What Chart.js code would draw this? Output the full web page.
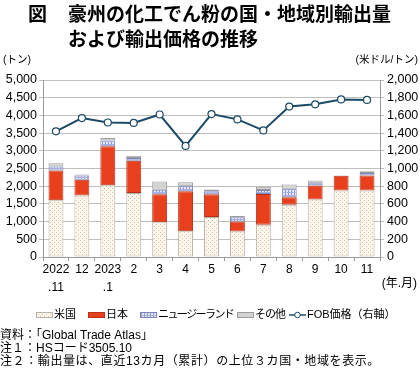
<!DOCTYPE html>
<html>
<head>
<meta charset="utf-8">
<script src="https://cdn.jsdelivr.net/npm/chart.js@4"></script>
<style>
html, body { margin: 0; padding: 0; background: #fff; }
</style>
</head>
<body>
<canvas id="chart" width="420" height="372"></canvas>
<script>
// 輸出量（トン）と FOB価格（米ドル/トン）
const months = [['2022', '.11'], '12', ['2023', '.1'], '2', '3', '4', '5', '6', '7', '8', '9', '10', '11']
const usa = [1600, 1740, 2030, 1810, 980, 730, 1130, 720, 910, 1475, 1625, 1880, 1880]
const japan = [845, 440, 1100, 910, 790, 1130, 640, 280, 870, 215, 395, 415, 425]
const newZealand = [110, 120, 160, 75, 130, 140, 85, 120, 110, 235, 65, 10, 65]
const others = [95, 30, 75, 65, 235, 115, 50, 40, 95, 120, 75, 5, 55]
const fobPrice = [1420, 1570, 1520, 1515, 1610, 1255, 1615, 1555, 1430, 1700, 1725, 1780, 1775]

const seriesNames = ['米国', '日本', 'ニュージーランド', 'その他', 'FOB価格（右軸）']

const canvas = document.getElementById('chart')
const ctx = canvas.getContext('2d')

const jpFont = '"Liberation Sans", "Noto Sans CJK JP", sans-serif'
const lineColor = '#1B4A66'

function makePattern(size, paint) {
    const c = document.createElement('canvas')
    c.width = size
    c.height = size
    paint(c.getContext('2d'))
    return ctx.createPattern(c, 'repeat')
}

// 米国: 点々の柄
const usaFill = makePattern(4, g => {
    g.fillStyle = '#FCF6EC'
    g.fillRect(0, 0, 4, 4)
    g.fillStyle = '#E2C39A'
    g.fillRect(0, 0, 1, 1)
    g.fillRect(2, 2, 1, 1)
})
// ニュージーランド: 格子の柄
const nzFill = makePattern(3, g => {
    g.fillStyle = '#E6E8F7'
    g.fillRect(0, 0, 3, 3)
    g.fillStyle = '#8E97D6'
    g.fillRect(0, 0, 1, 3)
    g.fillStyle = '#A9B0E0'
    g.fillRect(0, 0, 3, 1)
})

const barStyle = { borderWidth: 1, borderSkipped: false, stack: 'vol', yAxisID: 'y', order: 1,
    categoryPercentage: 0.8, barPercentage: 0.72 }

const textPlugin = {
    id: 'texts',
    beforeDraw(chart) {
        const c = chart.ctx
        c.save()
        c.fillStyle = '#fff'
        c.fillRect(0, 0, chart.width, chart.height)
        c.restore()
    },
    afterDraw(chart) {
        const c = chart.ctx
        c.save()
        c.fillStyle = '#000'
        c.textBaseline = 'middle'

        // タイトル
        c.font = 'bold 19px "Noto Sans CJK JP", sans-serif'
        c.textAlign = 'left'
        c.fillText('図', 28, 14)
        c.fillText('豪州の化工でん粉の国・地域別輸出量', 68, 14)
        c.fillText('および輸出価格の推移', 68, 39)

        // 単位
        c.font = '10.5px ' + jpFont
        c.fillText('(トン)', 3, 60)
        c.textAlign = 'right'
        c.fillText('(米ドル/トン)', 418, 60)
        c.font = '12px ' + jpFont
        c.fillText('(年.月)', 417, 284)

        // 凡例
        const legendX = [36, 88, 140, 237, 289]
        const spacing = ['0px', '0px', '-1.6px', '-1px', '0px']
        const ly = 315
        c.textAlign = 'left'
        chart.data.datasets.forEach((ds, i) => {
            const x = legendX[i]
            if (ds.type === 'line') {
                c.strokeStyle = ds.borderColor
                c.lineWidth = 1.5
                c.beginPath()
                c.moveTo(x, ly)
                c.lineTo(x + 17, ly)
                c.stroke()
                c.beginPath()
                c.arc(x + 8.5, ly, 2.8, 0, Math.PI * 2)
                c.fillStyle = '#fff'
                c.fill()
                c.lineWidth = 1
                c.stroke()
            } else {
                c.fillStyle = ds.backgroundColor
                c.fillRect(x, ly - 3, 17, 6)
                c.strokeStyle = ds.borderColor
                c.lineWidth = 1
                c.strokeRect(x + 0.5, ly - 2.5, 16, 5)
            }
            c.fillStyle = '#000'
            c.font = '11px ' + jpFont
            c.letterSpacing = spacing[i]
            c.fillText(seriesNames[i], x + 18, ly)
        })
        c.letterSpacing = '0px'

        // 資料・注
        c.font = '12px ' + jpFont
        c.fillText('資料：「Global Trade Atlas」', 0, 336)
        c.fillText('注１：HSコード3505.10', 0, 349)
        c.letterSpacing = '0.6px'
        c.fillText('注２：輸出量は、直近13カ月（累計）の上位３カ国・地域を表示。', 0, 362)
        c.restore()
    }
}

new Chart(ctx, {
    data: {
        labels: months,
        datasets: [
            Object.assign({ type: 'bar', label: seriesNames[0], data: usa,
                backgroundColor: usaFill, borderColor: '#B9B2A8' }, barStyle),
            Object.assign({ type: 'bar', label: seriesNames[1], data: japan,
                backgroundColor: '#E8401C', borderColor: '#B8321A' }, barStyle),
            Object.assign({ type: 'bar', label: seriesNames[2], data: newZealand,
                backgroundColor: nzFill, borderColor: '#7D86BE' }, barStyle),
            Object.assign({ type: 'bar', label: seriesNames[3], data: others,
                backgroundColor: '#D3D3D3', borderColor: '#9C9C9C' }, barStyle),
            { type: 'line', label: seriesNames[4], data: fobPrice, yAxisID: 'y2', order: 0,
                borderColor: lineColor, borderWidth: 2, tension: 0,
                pointRadius: 3.5, pointBackgroundColor: '#fff', pointBorderColor: lineColor,
                pointBorderWidth: 1.2 }
        ]
    },
    options: {
        responsive: false,
        animation: false,
        devicePixelRatio: 1,
        layout: { padding: { top: 80, left: 0, right: 0, bottom: 0 } },
        plugins: { legend: { display: false }, tooltip: { enabled: false } },
        scales: {
            x: {
                stacked: true,
                afterFit: s => { s.height = 115 },
                grid: { offset: true, drawOnChartArea: false, drawTicks: true, tickLength: 4, color: '#9A9A9A' },
                border: { color: '#9A9A9A' },
                ticks: { color: '#000', padding: 0, maxRotation: 0, autoSkip: false,
                    font: { family: jpFont, size: 12, lineHeight: 1.5 } }
            },
            y: {
                stacked: true,
                position: 'left',
                min: 0, max: 5000,
                afterFit: s => { s.width = 43 },
                grid: { color: '#BEBEBE', tickLength: 4 },
                border: { color: '#9A9A9A' },
                ticks: { stepSize: 500, autoSkip: false, color: '#000', padding: 2,
                    font: { family: jpFont, size: 12.5 },
                    callback: v => v.toLocaleString('en-US') }
            },
            y2: {
                position: 'right',
                min: 0, max: 2000,
                afterFit: s => { s.width = 40 },
                grid: { drawOnChartArea: false, color: '#BEBEBE', tickLength: 4 },
                border: { color: '#9A9A9A' },
                ticks: { stepSize: 200, autoSkip: false, color: '#000', padding: 3,
                    font: { family: jpFont, size: 12.5 },
                    callback: v => v.toLocaleString('en-US') }
            }
        }
    },
    plugins: [textPlugin]
})
</script>
</body>
</html>
